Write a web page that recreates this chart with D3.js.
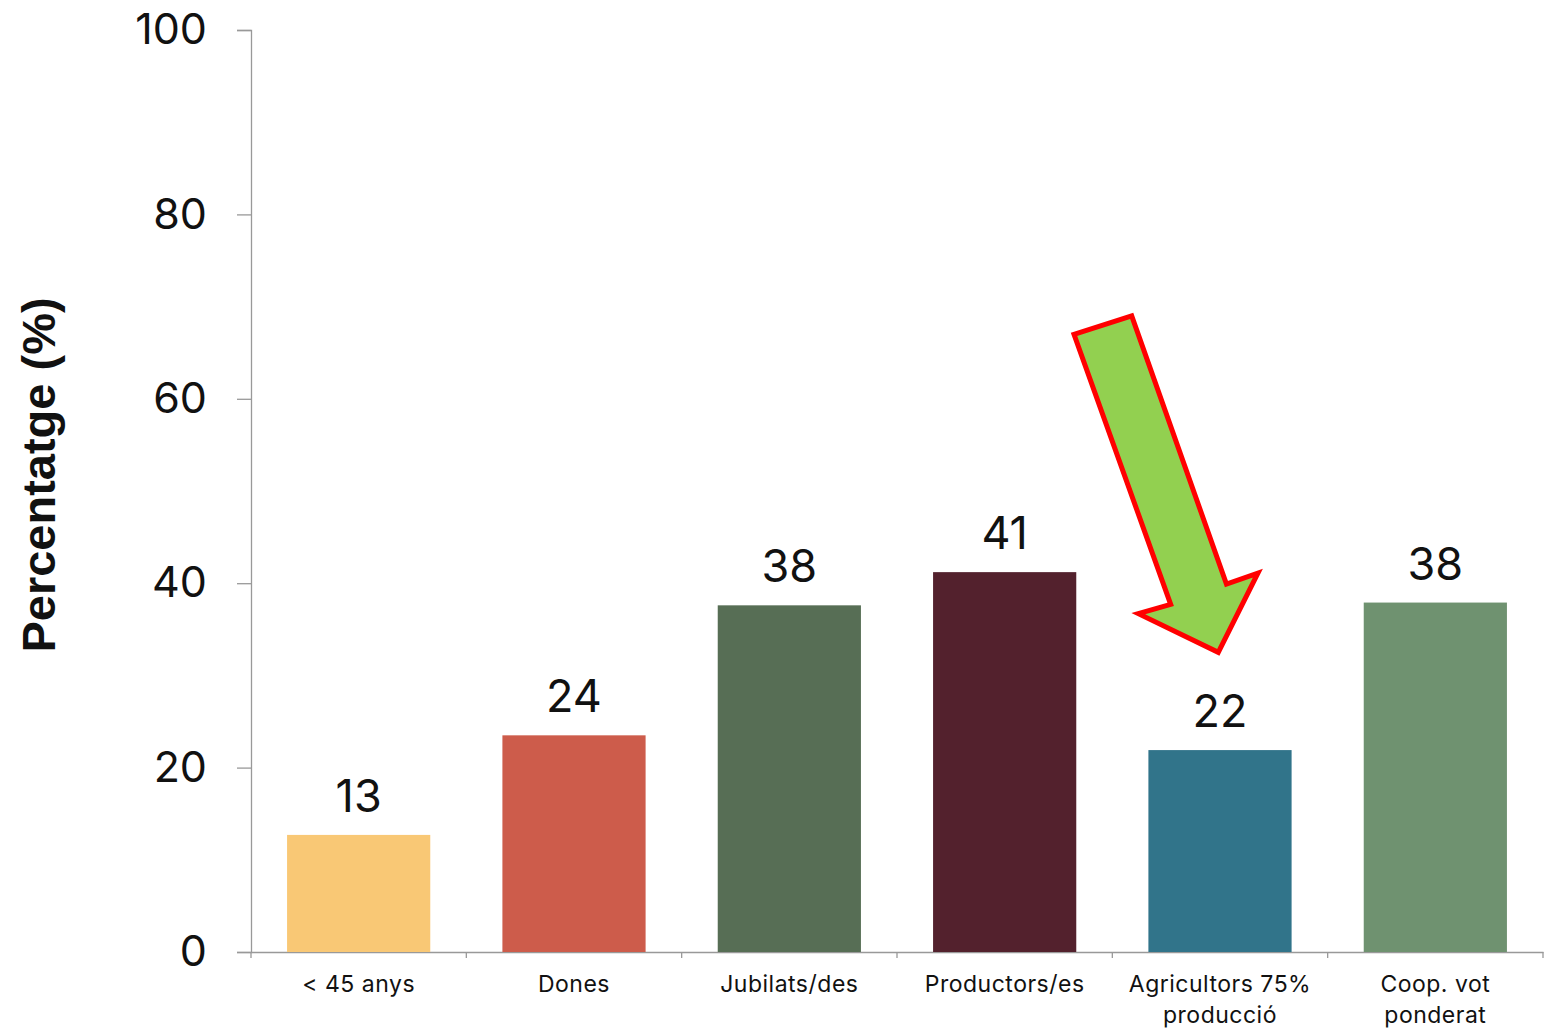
<!DOCTYPE html>
<html>
<head>
<meta charset="utf-8">
<script src="https://cdn.jsdelivr.net/npm/d3@7"></script>
<style>
  body { margin: 0; background: #fff; }
  text { font-family: Inter, "Noto Sans", sans-serif; fill: #111; }
</style>
</head>
<body>
<div id="chart"></div>
<script>
// data
const categories = ["< 45 anys", "Dones", "Jubilats/des", "Productors/es", "Agricultors 75%|producció", "Coop. vot|ponderat"]
const values = [12.7, 23.5, 37.6, 41.2, 21.9, 37.9]
const valueLabels = ["13", "24", "38", "41", "22", "38"]
const barColors = ["#F9C875", "#CD5C4B", "#576E55", "#53212D", "#31748A", "#6F9270"]
const yTicks = [0, 20, 40, 60, 80, 100]

// arrow annotation, in (band offset, value) units relative to the "Agricultors" band start
const arrowPts = [[-0.178, 67.0], [0.090, 69.0], [0.530, 39.9], [0.676, 41.1], [0.492, 32.5], [0.121, 36.7], [0.271, 37.7]]

var margin = {top: 30, right: 6, bottom: 79, left: 251},
    W = 1549, H = 1031,
    width = W - margin.left - margin.right,
    height = H - margin.top - margin.bottom;

var svg = d3.select("#chart").append("svg")
    .attr("width", W)
    .attr("height", H)
  .append("g")
    .attr("transform", "translate(" + margin.left + "," + margin.top + ")");

var x = d3.scaleBand()
  .domain(categories)
  .range([0, width])
  .paddingInner(0.335)
  .paddingOuter(0.1675);

var y = d3.scaleLinear()
  .domain([0, 100])
  .range([height, 0]);

// Y axis
var yAxis = svg.append("g")
  .call(d3.axisLeft(y).tickValues(yTicks).tickSize(14).tickPadding(30));
yAxis.select(".domain").attr("stroke", "#999").attr("stroke-width", 1.3);
yAxis.selectAll(".tick line").attr("stroke", "#999").attr("stroke-width", 1.3);
yAxis.selectAll(".tick text")
  .style("font-family", "Inter, sans-serif")
  .style("font-size", "43px")
  .attr("fill", "#111");

// X axis with ticks at band boundaries
var xAxis = svg.append("g")
  .attr("transform", "translate(0," + height + ")")
  .call(d3.axisBottom(x).tickSize(0).tickFormat(""));
xAxis.select(".domain").attr("stroke", "#999").attr("stroke-width", 1.3);

var step = x.step();
var bandStart = i => x(categories[i]) - (step - x.bandwidth()) / 2;

svg.append("g").selectAll("line")
  .data(d3.range(categories.length + 1))
  .join("line")
    .attr("x1", d => d * step)
    .attr("x2", d => d * step)
    .attr("y1", height)
    .attr("y2", height + 6)
    .attr("stroke", "#999")
    .attr("stroke-width", 1.3);

// category labels (two lines where needed)
svg.append("g").selectAll("text")
  .data(categories)
  .join("text")
    .attr("x", d => x(d) + x.bandwidth() / 2)
    .attr("y", height + 40)
    .attr("text-anchor", "middle")
    .style("font-size", "23px")
    .style("letter-spacing", "0.5px")
    .each(function(d) {
      var lines = d.split("|");
      d3.select(this).selectAll("tspan")
        .data(lines)
        .join("tspan")
          .attr("x", x(d) + x.bandwidth() / 2)
          .attr("dy", (l, i) => i === 0 ? 0 : 31)
          .text(l => l);
    });

// bars
svg.append("g").selectAll("rect")
  .data(values)
  .join("rect")
    .attr("x", (d, i) => x(categories[i]))
    .attr("y", d => y(d))
    .attr("width", x.bandwidth())
    .attr("height", d => height - y(d))
    .attr("fill", (d, i) => barColors[i]);

// value labels
svg.append("g").selectAll("text")
  .data(values)
  .join("text")
    .attr("x", (d, i) => x(categories[i]) + x.bandwidth() / 2)
    .attr("y", d => y(d) - 23)
    .attr("text-anchor", "middle")
    .style("font-size", "45px")
    .text((d, i) => valueLabels[i]);

// y axis title
svg.append("text")
  .attr("transform", "translate(" + (-196) + "," + (height / 2 - 16) + ") rotate(-90)")
  .attr("text-anchor", "middle")
  .style("font-family", "'Liberation Sans', Arial, sans-serif")
  .style("font-weight", "bold")
  .style("font-size", "47px")
  .text("Percentatge (%)");

// highlight arrow
var ref = bandStart(4);
svg.append("polygon")
  .attr("points", arrowPts.map(p => (ref + p[0] * step) + "," + y(p[1])).join(" "))
  .attr("fill", "#92D050")
  .attr("stroke", "#FF0000")
  .attr("stroke-width", 5)
  .attr("stroke-linejoin", "miter");
</script>
</body>
</html>
